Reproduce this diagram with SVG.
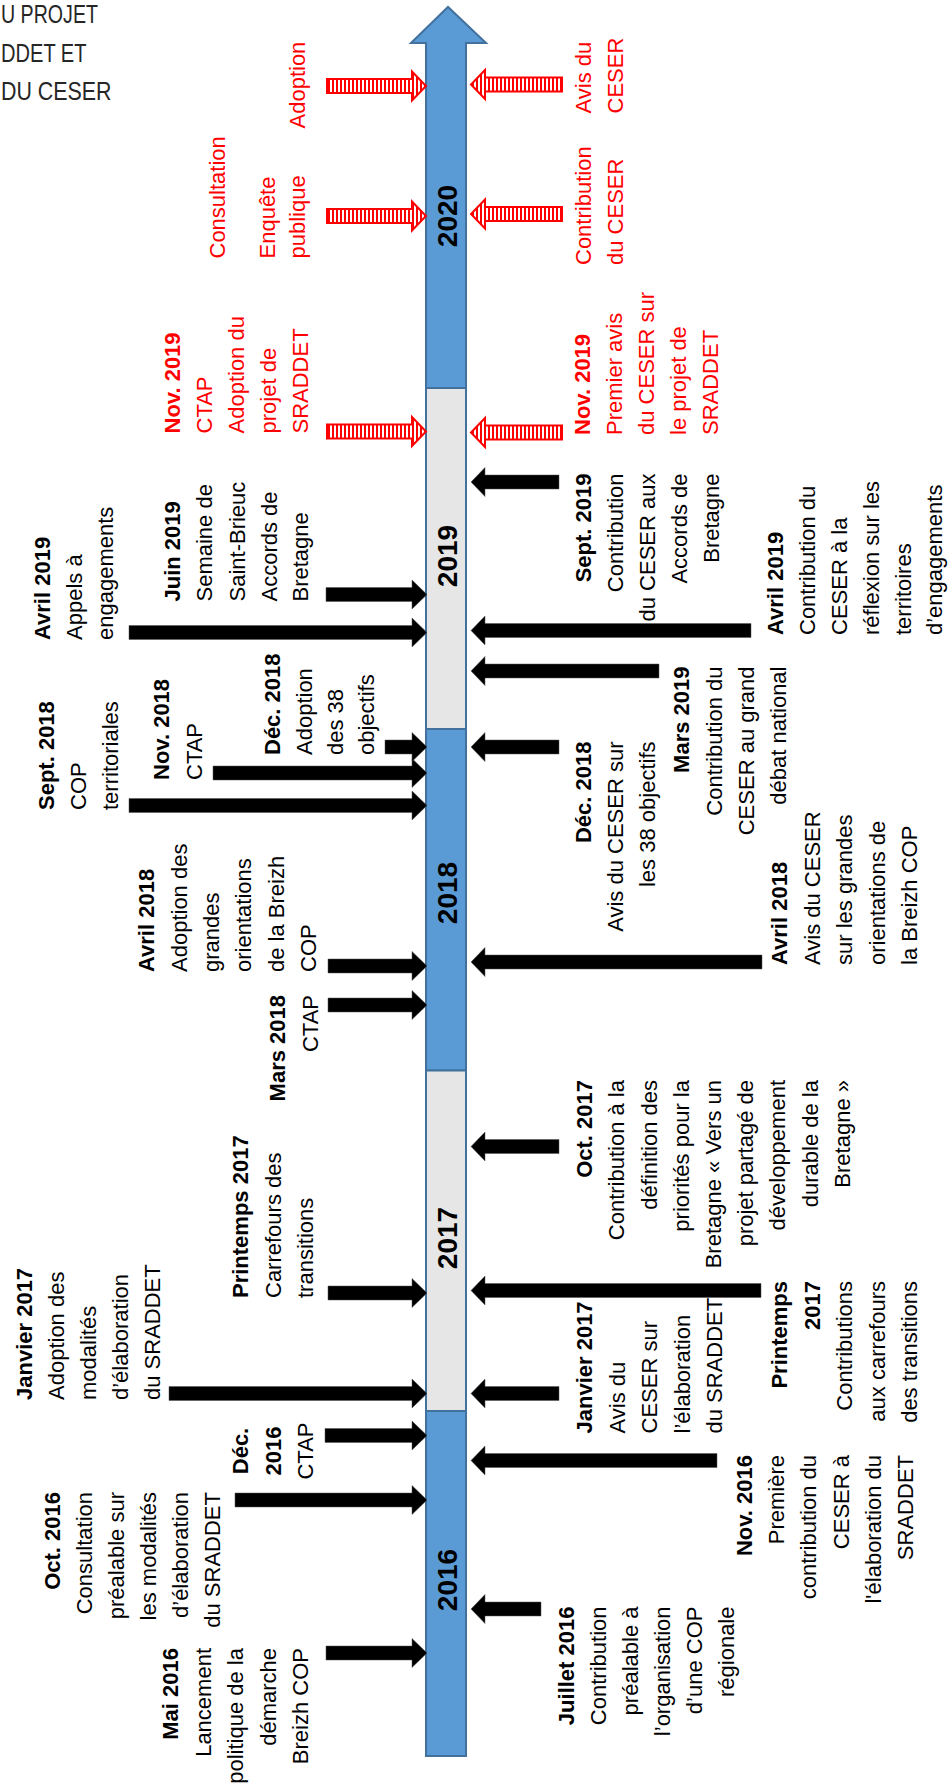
<svg xmlns="http://www.w3.org/2000/svg" width="949" height="1789" viewBox="0 0 949 1789">
<style>
.t{font-family:"Liberation Sans",Arial,sans-serif;font-size:22px;fill:#000}
.b{font-weight:bold}
.r{fill:#FF0000}
.yr{font-family:"Liberation Sans",Arial,sans-serif;font-size:28px;font-weight:bold;fill:#000}
.ttl{font-family:"Liberation Sans",Arial,sans-serif;font-size:25px;fill:#262626}
.seg{stroke:#41719C;stroke-width:2}
.blue{fill:#5B9BD5}
.gray{fill:#E7E6E6}
.ba{fill:#000;stroke:#555;stroke-width:0.5}
.ra{fill:url(#stripes);stroke:#FF0000;stroke-width:2}
</style>
<defs>
<pattern id="stripes" x="0" y="0" width="4" height="4" patternUnits="userSpaceOnUse">
<rect width="4" height="4" fill="#fff"/>
<rect width="2" height="4" fill="#FF0000"/>
</pattern>
</defs>
<rect width="949" height="1789" fill="#fff"/>

<g id="title">
<text class="ttl" x="1" y="23.3" textLength="97" lengthAdjust="spacingAndGlyphs">U PROJET</text>
<text class="ttl" x="1" y="61.7" textLength="85.5" lengthAdjust="spacingAndGlyphs">DDET ET</text>
<text class="ttl" x="1" y="100" textLength="110.5" lengthAdjust="spacingAndGlyphs">DU CESER</text>
</g>

<g id="timeline">
<polygon class="seg blue" points="426,388 426,43 411,43 448,7 486,43 466,43 466,388"/>
<rect class="seg gray" x="426" y="388" width="40" height="341"/>
<rect class="seg blue" x="426" y="729" width="40" height="341.5"/>
<rect class="seg gray" x="426" y="1070.5" width="40" height="340.5"/>
<rect class="seg blue" x="426" y="1411" width="40" height="345"/>
<text class="yr" transform="rotate(-90)" text-anchor="middle" x="-216" y="457">2020</text>
<text class="yr" transform="rotate(-90)" text-anchor="middle" x="-556" y="457">2019</text>
<text class="yr" transform="rotate(-90)" text-anchor="middle" x="-893" y="457">2018</text>
<text class="yr" transform="rotate(-90)" text-anchor="middle" x="-1238" y="457">2017</text>
<text class="yr" transform="rotate(-90)" text-anchor="middle" x="-1580" y="457">2016</text>
</g>

<g id="connectors">
<path class="ba" d="M326,1646 H412 V1638.5 L427,1653 L412,1667.5 V1660 H326 Z"/>
<path class="ba" d="M235,1493 H412 V1485.5 L427,1500 L412,1514.5 V1507 H235 Z"/>
<path class="ba" d="M325,1428.5 H412 V1421 L427,1435.5 L412,1450 V1442.5 H325 Z"/>
<path class="ba" d="M169,1386.5 H412 V1379 L427,1393.5 L412,1408 V1400.5 H169 Z"/>
<path class="ba" d="M328,1286 H412 V1278.5 L427,1293 L412,1307.5 V1300 H328 Z"/>
<path class="ba" d="M328,998 H412 V990.5 L427,1005 L412,1019.5 V1012 H328 Z"/>
<path class="ba" d="M328,959 H412 V951.5 L427,966 L412,980.5 V973 H328 Z"/>
<path class="ba" d="M129,798.5 H412 V791 L427,805.5 L412,820 V812.5 H129 Z"/>
<path class="ba" d="M213,766 H412 V758.5 L427,773 L412,787.5 V780 H213 Z"/>
<path class="ba" d="M385,740 H412 V732.5 L427,747 L412,761.5 V754 H385 Z"/>
<path class="ba" d="M129,625.5 H412 V618 L427,632.5 L412,647 V639.5 H129 Z"/>
<path class="ba" d="M326,587.5 H412 V580 L427,594.5 L412,609 V601.5 H326 Z"/>

<path class="ba" d="M541,1602 H485 V1594.5 L471,1609 L485,1623.5 V1616 H541 Z"/>
<path class="ba" d="M717,1453.5 H485 V1446 L471,1460.5 L485,1475 V1467.5 H717 Z"/>
<path class="ba" d="M559,1386.5 H485 V1379 L471,1393.5 L485,1408 V1400.5 H559 Z"/>
<path class="ba" d="M761,1283.5 H485 V1276 L471,1290.5 L485,1305 V1297.5 H761 Z"/>
<path class="ba" d="M559,1139.5 H485 V1132 L471,1146.5 L485,1161 V1153.5 H559 Z"/>
<path class="ba" d="M762,955 H485 V947.5 L471,962 L485,976.5 V969 H762 Z"/>
<path class="ba" d="M559,740 H485 V732.5 L471,747 L485,761.5 V754 H559 Z"/>
<path class="ba" d="M659,664 H485 V656.5 L471,671 L485,685.5 V678 H659 Z"/>
<path class="ba" d="M751,623.5 H485 V616 L471,630.5 L485,645 V637.5 H751 Z"/>
<path class="ba" d="M559,475 H485 V467.5 L471,482 L485,496.5 V489 H559 Z"/>

<path class="ra" d="M327,79 H412 V71.5 L426,86 L412,100.5 V93 H327 Z"/>
<path class="ra" d="M327,209 H412 V201.5 L426,216 L412,230.5 V223 H327 Z"/>
<path class="ra" d="M327,424.5 H412 V417 L426,431.5 L412,446 V438.5 H327 Z"/>
<path class="ra" d="M562,77.5 H485 V70 L471,84.5 L485,99 V91.5 H562 Z"/>
<path class="ra" d="M562,207 H485 V199.5 L471,214 L485,228.5 V221 H562 Z"/>
<path class="ra" d="M562,425.5 H485 V418 L471,432.5 L485,447 V439.5 H562 Z"/>
</g>

<g id="mai2016"><text class="t" transform="rotate(-90)" text-anchor="end">
<tspan class="b" x="-1648" y="178">Mai 2016</tspan><tspan x="-1648" y="210.5">Lancement</tspan><tspan x="-1648" y="243">politique de la</tspan><tspan x="-1648" y="275.5">démarche</tspan><tspan x="-1648" y="308">Breizh COP</tspan></text></g>

<g id="oct2016"><text class="t" transform="rotate(-90)" text-anchor="end">
<tspan class="b" x="-1492" y="60">Oct. 2016</tspan><tspan x="-1492" y="92">Consultation</tspan><tspan x="-1492" y="124">préalable sur</tspan><tspan x="-1492" y="156">les modalités</tspan><tspan x="-1492" y="188">d’élaboration</tspan><tspan x="-1492" y="220">du SRADDET</tspan></text></g>

<g id="dec2016"><text class="t" transform="rotate(-90)" text-anchor="middle">
<tspan class="b" x="-1451" y="248">Déc.</tspan><tspan class="b" x="-1451" y="280.5">2016</tspan><tspan x="-1451" y="313">CTAP</tspan></text></g>

<g id="janv2017"><text class="t" transform="rotate(-90)" text-anchor="start">
<tspan class="b" x="-1400" y="32">Janvier 2017</tspan><tspan x="-1400" y="64">Adoption des</tspan><tspan x="-1400" y="96">modalités</tspan><tspan x="-1400" y="128">d’élaboration</tspan><tspan x="-1400" y="160">du SRADDET</tspan></text></g>

<g id="print2017"><text class="t" transform="rotate(-90)" text-anchor="start">
<tspan class="b" x="-1298" y="248">Printemps 2017</tspan><tspan x="-1298" y="280.5">Carrefours des</tspan><tspan x="-1298" y="313">transitions</tspan></text></g>

<g id="mars2018"><text class="t" transform="rotate(-90)" text-anchor="end">
<tspan class="b" x="-995" y="285">Mars 2018</tspan><tspan x="-995" y="318">CTAP</tspan></text></g>

<g id="avril2018"><text class="t" transform="rotate(-90)" text-anchor="start">
<tspan class="b" x="-972" y="154">Avril 2018</tspan><tspan x="-972" y="186.5">Adoption des</tspan><tspan x="-972" y="219">grandes</tspan><tspan x="-972" y="251">orientations</tspan><tspan x="-972" y="283.5">de la Breizh</tspan><tspan x="-972" y="316">COP</tspan></text></g>

<g id="sept2018"><text class="t" transform="rotate(-90)" text-anchor="start">
<tspan class="b" x="-810" y="54">Sept. 2018</tspan><tspan x="-810" y="86">COP</tspan><tspan x="-810" y="118">territoriales</tspan></text></g>

<g id="nov2018"><text class="t" transform="rotate(-90)" text-anchor="start">
<tspan class="b" x="-780" y="168.5">Nov. 2018</tspan><tspan x="-780" y="201.5">CTAP</tspan></text></g>

<g id="dec2018"><text class="t" transform="rotate(-90)" text-anchor="start">
<tspan class="b" x="-755" y="280">Déc. 2018</tspan><tspan x="-755" y="311.5">Adoption</tspan><tspan x="-755" y="343">des 38</tspan><tspan x="-755" y="374">objectifs</tspan></text></g>

<g id="avril2019"><text class="t" transform="rotate(-90)" text-anchor="start">
<tspan class="b" x="-640" y="50">Avril 2019</tspan><tspan x="-640" y="81.5">Appels à</tspan><tspan x="-640" y="112.5">engagements</tspan></text></g>

<g id="juin2019"><text class="t" transform="rotate(-90)" text-anchor="start">
<tspan class="b" x="-601.5" y="180">Juin 2019</tspan><tspan x="-601.5" y="212">Semaine de</tspan><tspan x="-601.5" y="244.5">Saint-Brieuc</tspan><tspan x="-601.5" y="276.5">Accords de</tspan><tspan x="-601.5" y="308">Bretagne</tspan></text></g>

<g id="nov2019"><text class="t r" transform="rotate(-90)" text-anchor="start">
<tspan class="b" x="-433.5" y="180">Nov. 2019</tspan><tspan x="-433.5" y="212">CTAP</tspan><tspan x="-433.5" y="244">Adoption du</tspan><tspan x="-433.5" y="276">projet de</tspan><tspan x="-433.5" y="308">SRADDET</tspan></text></g>

<g id="consultation"><text class="t r" transform="rotate(-90)" text-anchor="start">
<tspan x="-258.5" y="225">Consultation</tspan></text></g>

<g id="enquete"><text class="t r" transform="rotate(-90)" text-anchor="start">
<tspan x="-258.5" y="275">Enquête</tspan><tspan x="-258.5" y="305">publique</tspan></text></g>

<g id="adoption"><text class="t r" transform="rotate(-90)" text-anchor="start">
<tspan x="-128.5" y="305">Adoption</tspan></text></g>

<g id="avisceser"><text class="t r" transform="rotate(-90)" text-anchor="start">
<tspan x="-113.5" y="591">Avis du</tspan><tspan x="-113.5" y="622.5">CESER</tspan></text></g>

<g id="contribceser"><text class="t r" transform="rotate(-90)" text-anchor="start">
<tspan x="-265" y="590.5">Contribution</tspan><tspan x="-265" y="622.5">du CESER</tspan></text></g>

<g id="nov2019r"><text class="t r" transform="rotate(-90)" text-anchor="start">
<tspan class="b" x="-435" y="590">Nov. 2019</tspan><tspan x="-435" y="622">Premier avis</tspan><tspan x="-435" y="654">du CESER sur</tspan><tspan x="-435" y="686">le projet de</tspan><tspan x="-435" y="718">SRADDET</tspan></text></g>

<g id="sept2019r"><text class="t" transform="rotate(-90)" text-anchor="end">
<tspan class="b" x="-473.5" y="590.5">Sept. 2019</tspan><tspan x="-473.5" y="622.5">Contribution</tspan><tspan x="-473.5" y="654.5">du CESER aux</tspan><tspan x="-473.5" y="686.5">Accords de</tspan><tspan x="-473.5" y="718.5">Bretagne</tspan></text></g>

<g id="avril2019r"><text class="t" transform="rotate(-90)" text-anchor="start">
<tspan class="b" x="-635" y="783">Avril 2019</tspan><tspan x="-635" y="815">Contribution du</tspan><tspan x="-635" y="847">CESER à la</tspan><tspan x="-635" y="879">réflexion sur les</tspan><tspan x="-635" y="910.5">territoires</tspan><tspan x="-635" y="942">d’engagements</tspan></text></g>

<g id="mars2019r"><text class="t" transform="rotate(-90)" text-anchor="end">
<tspan class="b" x="-666.5" y="689">Mars 2019</tspan><tspan x="-666.5" y="721.5">Contribution du</tspan><tspan x="-666.5" y="754">CESER au grand</tspan><tspan x="-666.5" y="786">débat national</tspan></text></g>

<g id="dec2018r"><text class="t" transform="rotate(-90)" text-anchor="end">
<tspan class="b" x="-741.5" y="590.5">Déc. 2018</tspan><tspan x="-741.5" y="622.5">Avis du CESER sur</tspan><tspan x="-741.5" y="654.5">les 38 objectifs</tspan></text></g>

<g id="avril2018r"><text class="t" transform="rotate(-90)" text-anchor="start">
<tspan class="b" x="-965" y="787">Avril 2018</tspan><tspan x="-965" y="819.5">Avis du CESER</tspan><tspan x="-965" y="852">sur les grandes</tspan><tspan x="-965" y="884.5">orientations de</tspan><tspan x="-965" y="917">la Breizh COP</tspan></text></g>

<g id="oct2017r"><text class="t" transform="rotate(-90)" text-anchor="end">
<tspan class="b" x="-1080" y="592">Oct. 2017</tspan><tspan x="-1080" y="624">Contribution à la</tspan><tspan x="-1080" y="656.5">définition des</tspan><tspan x="-1080" y="688.5">priorités pour la</tspan><tspan x="-1080" y="721">Bretagne « Vers un</tspan><tspan x="-1080" y="753">projet partagé de</tspan><tspan x="-1080" y="785">développement</tspan><tspan x="-1080" y="817.5">durable de la</tspan><tspan x="-1080" y="849.5">Bretagne »</tspan></text></g>

<g id="print2017r"><text class="t" transform="rotate(-90)" text-anchor="end">
<tspan class="b" x="-1281" y="787">Printemps</tspan><tspan class="b" x="-1281" y="819.5">2017</tspan><tspan x="-1281" y="852">Contributions</tspan><tspan x="-1281" y="884.5">aux carrefours</tspan><tspan x="-1281" y="917">des transitions</tspan></text></g>

<g id="janv2017r"><text class="t" transform="rotate(-90)" text-anchor="start">
<tspan class="b" x="-1433.5" y="592">Janvier 2017</tspan><tspan x="-1433.5" y="624.5">Avis du</tspan><tspan x="-1433.5" y="657">CESER sur</tspan><tspan x="-1433.5" y="689.5">l’élaboration</tspan><tspan x="-1433.5" y="722">du SRADDET</tspan></text></g>

<g id="nov2016r"><text class="t" transform="rotate(-90)" text-anchor="end">
<tspan class="b" x="-1455" y="752">Nov. 2016</tspan><tspan x="-1455" y="784">Première</tspan><tspan x="-1455" y="816">contribution du</tspan><tspan x="-1455" y="848.5">CESER à</tspan><tspan x="-1455" y="880.5">l'élaboration du</tspan><tspan x="-1455" y="912.5">SRADDET</tspan></text></g>

<g id="juil2016r"><text class="t" transform="rotate(-90)" text-anchor="end">
<tspan class="b" x="-1606.5" y="574">Juillet 2016</tspan><tspan x="-1606.5" y="606">Contribution</tspan><tspan x="-1606.5" y="638">préalable à</tspan><tspan x="-1606.5" y="670">l’organisation</tspan><tspan x="-1606.5" y="702">d’une COP</tspan><tspan x="-1606.5" y="734">régionale</tspan></text></g>
</svg>
